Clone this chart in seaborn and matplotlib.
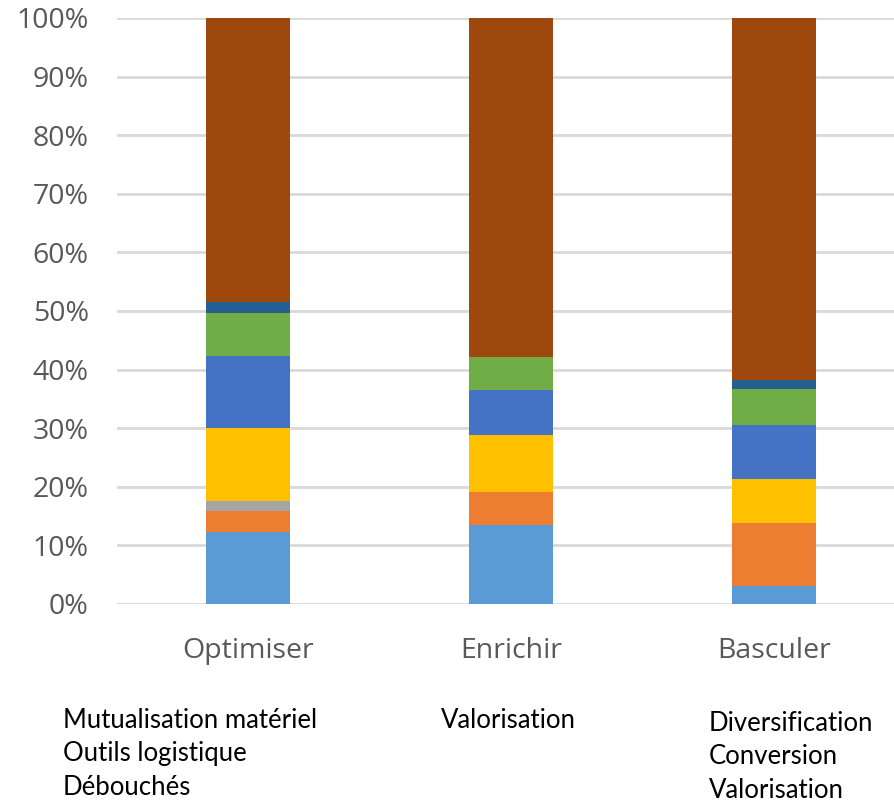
import pandas as pd
import seaborn as sns
import matplotlib.pyplot as plt
from matplotlib.ticker import PercentFormatter

# valeurs (en fraction de 1)
groupes = ["Optimiser", "Enrichir", "Basculer"]
series = ["s1", "s2", "s3", "s4", "s5", "s6", "s7", "s8"]
s1 = [0.123, 0.135, 0.031]
s2 = [0.036, 0.056, 0.107]
s3 = [0.017, 0.0, 0.0]
s4 = [0.124, 0.097, 0.076]
s5 = [0.124, 0.077, 0.091]
s6 = [0.073, 0.056, 0.062]
s7 = [0.018, 0.0, 0.015]
s8 = [0.485, 0.579, 0.618]
couleurs = ["#5B9BD5", "#ED7D31", "#A5A5A5", "#FFC000",
            "#4472C4", "#70AD47", "#255E91", "#9E480E"]

textes_bas = [
    "Mutualisation matériel\nOutils logistique\nDébouchés",
    "Valorisation",
    "Diversification\nConversion\nValorisation",
]


def main():
    sns.set_style("white")
    plt.rcParams["font.family"] = ["Open Sans", "DejaVu Sans"]

    valeurs = [s1, s2, s3, s4, s5, s6, s7, s8]
    rows = []
    for i, g in enumerate(groupes):
        cum = 0
        for s, v in zip(series, valeurs):
            cum += v[i]
            rows.append({"groupe": g, "serie": s, "cum": cum})
    df = pd.DataFrame(rows)

    fig = plt.figure(figsize=(8.95, 8.02), dpi=100)
    ax = fig.add_axes([0.1302, 0.2469, 0.8816, 0.7307])

    # empilement : on dessine du haut (cumul total) vers le bas
    for s, c in reversed(list(zip(series, couleurs))):
        sns.barplot(data=df[df["serie"] == s], x="groupe", y="cum",
                    color=c, width=0.316, linewidth=0, saturation=1,
                    order=groupes, ax=ax, zorder=3)

    ax.set_ylim(0, 1)
    ax.set_xlim(-0.5, 2.5)
    ax.set_yticks([i / 10 for i in range(11)])
    ax.yaxis.set_major_formatter(PercentFormatter(1.0, decimals=0))
    ax.grid(axis="y", color="#D9D9D9", linewidth=2, zorder=0)
    ax.set_axisbelow(True)
    for sp in ax.spines.values():
        sp.set_visible(False)
    ax.tick_params(axis="both", length=0, labelsize=20.5, colors="#595959")
    ax.tick_params(axis="y", pad=20)
    ax.tick_params(axis="x", pad=24)
    ax.set_xlabel("")
    ax.set_ylabel("")

    xs = [63 / 895, 441 / 895, 709 / 895]
    ys = [1 - 708 / 802, 1 - 708 / 802, 1 - 711 / 802]
    for x, y, t in zip(xs, ys, textes_bas):
        fig.text(x, y, t, ha="left", va="top", fontsize=18.5,
                 family=["Lato", "DejaVu Sans"], color="black",
                 linespacing=1.42)

    fig.savefig("out.png", dpi=100)


if __name__ == "__main__":
    main()
